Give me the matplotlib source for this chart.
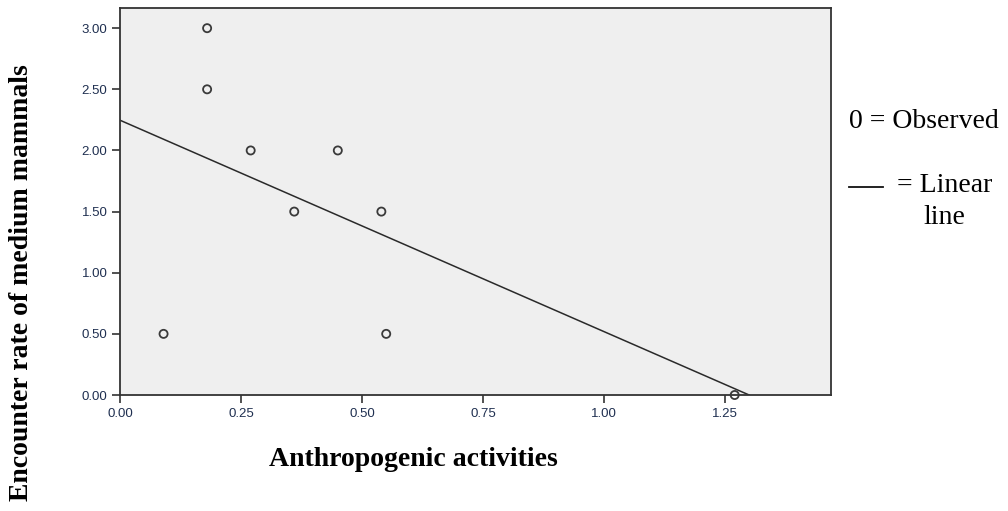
import numpy as np
import matplotlib
matplotlib.use("Agg")
import matplotlib.pyplot as plt
from matplotlib.lines import Line2D

# Data
anthropogenic = [0.09, 0.18, 0.18, 0.27, 0.36, 0.45, 0.54, 0.55, 1.27]
encounter_rate = [0.5, 3.0, 2.5, 2.0, 1.5, 2.0, 1.5, 0.5, 0.0]
x_ticks = [0.00, 0.25, 0.50, 0.75, 1.00, 1.25]
y_ticks = [0.00, 0.50, 1.00, 1.50, 2.00, 2.50, 3.00]

fig = plt.figure(figsize=(10.08, 5.11), dpi=100)
ax = fig.add_axes([120/1008, 1 - 395/511, (831-120)/1008, (395-8)/511])
ax.set_facecolor('#efefef')

slope, intercept = np.polyfit(anthropogenic, encounter_rate, 1)
x_end = -intercept / slope
xl = np.array([0.0, x_end])
ax.plot(xl, slope * xl + intercept, color='#2a2a2a', lw=1.1, zorder=2)

ax.scatter(anthropogenic, encounter_rate, s=34, facecolors='none',
           edgecolors='#3a3a3a', linewidths=1.3, zorder=3, clip_on=False)

ax.set_xlim(0, 1.469)
ax.set_ylim(0, 3.165)
ax.set_xticks(x_ticks)
ax.set_yticks(y_ticks)
ax.set_xticklabels([f"{v:.2f}" for v in x_ticks])
ax.set_yticklabels([f"{v:.2f}" for v in y_ticks])
for sp in ax.spines.values():
    sp.set_color('#333333')
    sp.set_linewidth(1.3)
ax.tick_params(direction='out', length=6, width=1.2, color='#333333',
               labelsize=9.5, labelcolor='#1f2f50', pad=3)
for lab in ax.get_xticklabels() + ax.get_yticklabels():
    lab.set_family('Liberation Sans')

fig.text(413/1008, 1 - 460/511, "Anthropogenic activities", ha='center', va='center',
         family='Liberation Serif', fontweight='bold', fontsize=20)
fig.text(22/1008, 1 - 283/511, "Encounter rate of medium mammals", ha='center', va='center',
         rotation=90, family='Liberation Serif', fontweight='bold', fontsize=20)

fig.text(849/1008, 1 - 122/511, "0 = Observed", ha='left', va='center',
         family='Liberation Serif', fontsize=20)
fig.add_artist(Line2D([849/1008, 883/1008], [1 - 187/511, 1 - 187/511],
                      transform=fig.transFigure, color='#111111', lw=1.3))
fig.text(897/1008, 1 - 185/511, "= Linear", ha='left', va='center',
         family='Liberation Serif', fontsize=20)
fig.text(944/1008, 1 - 218/511, "line", ha='center', va='center',
         family='Liberation Serif', fontsize=20)

fig.savefig("out.png", dpi=100)
